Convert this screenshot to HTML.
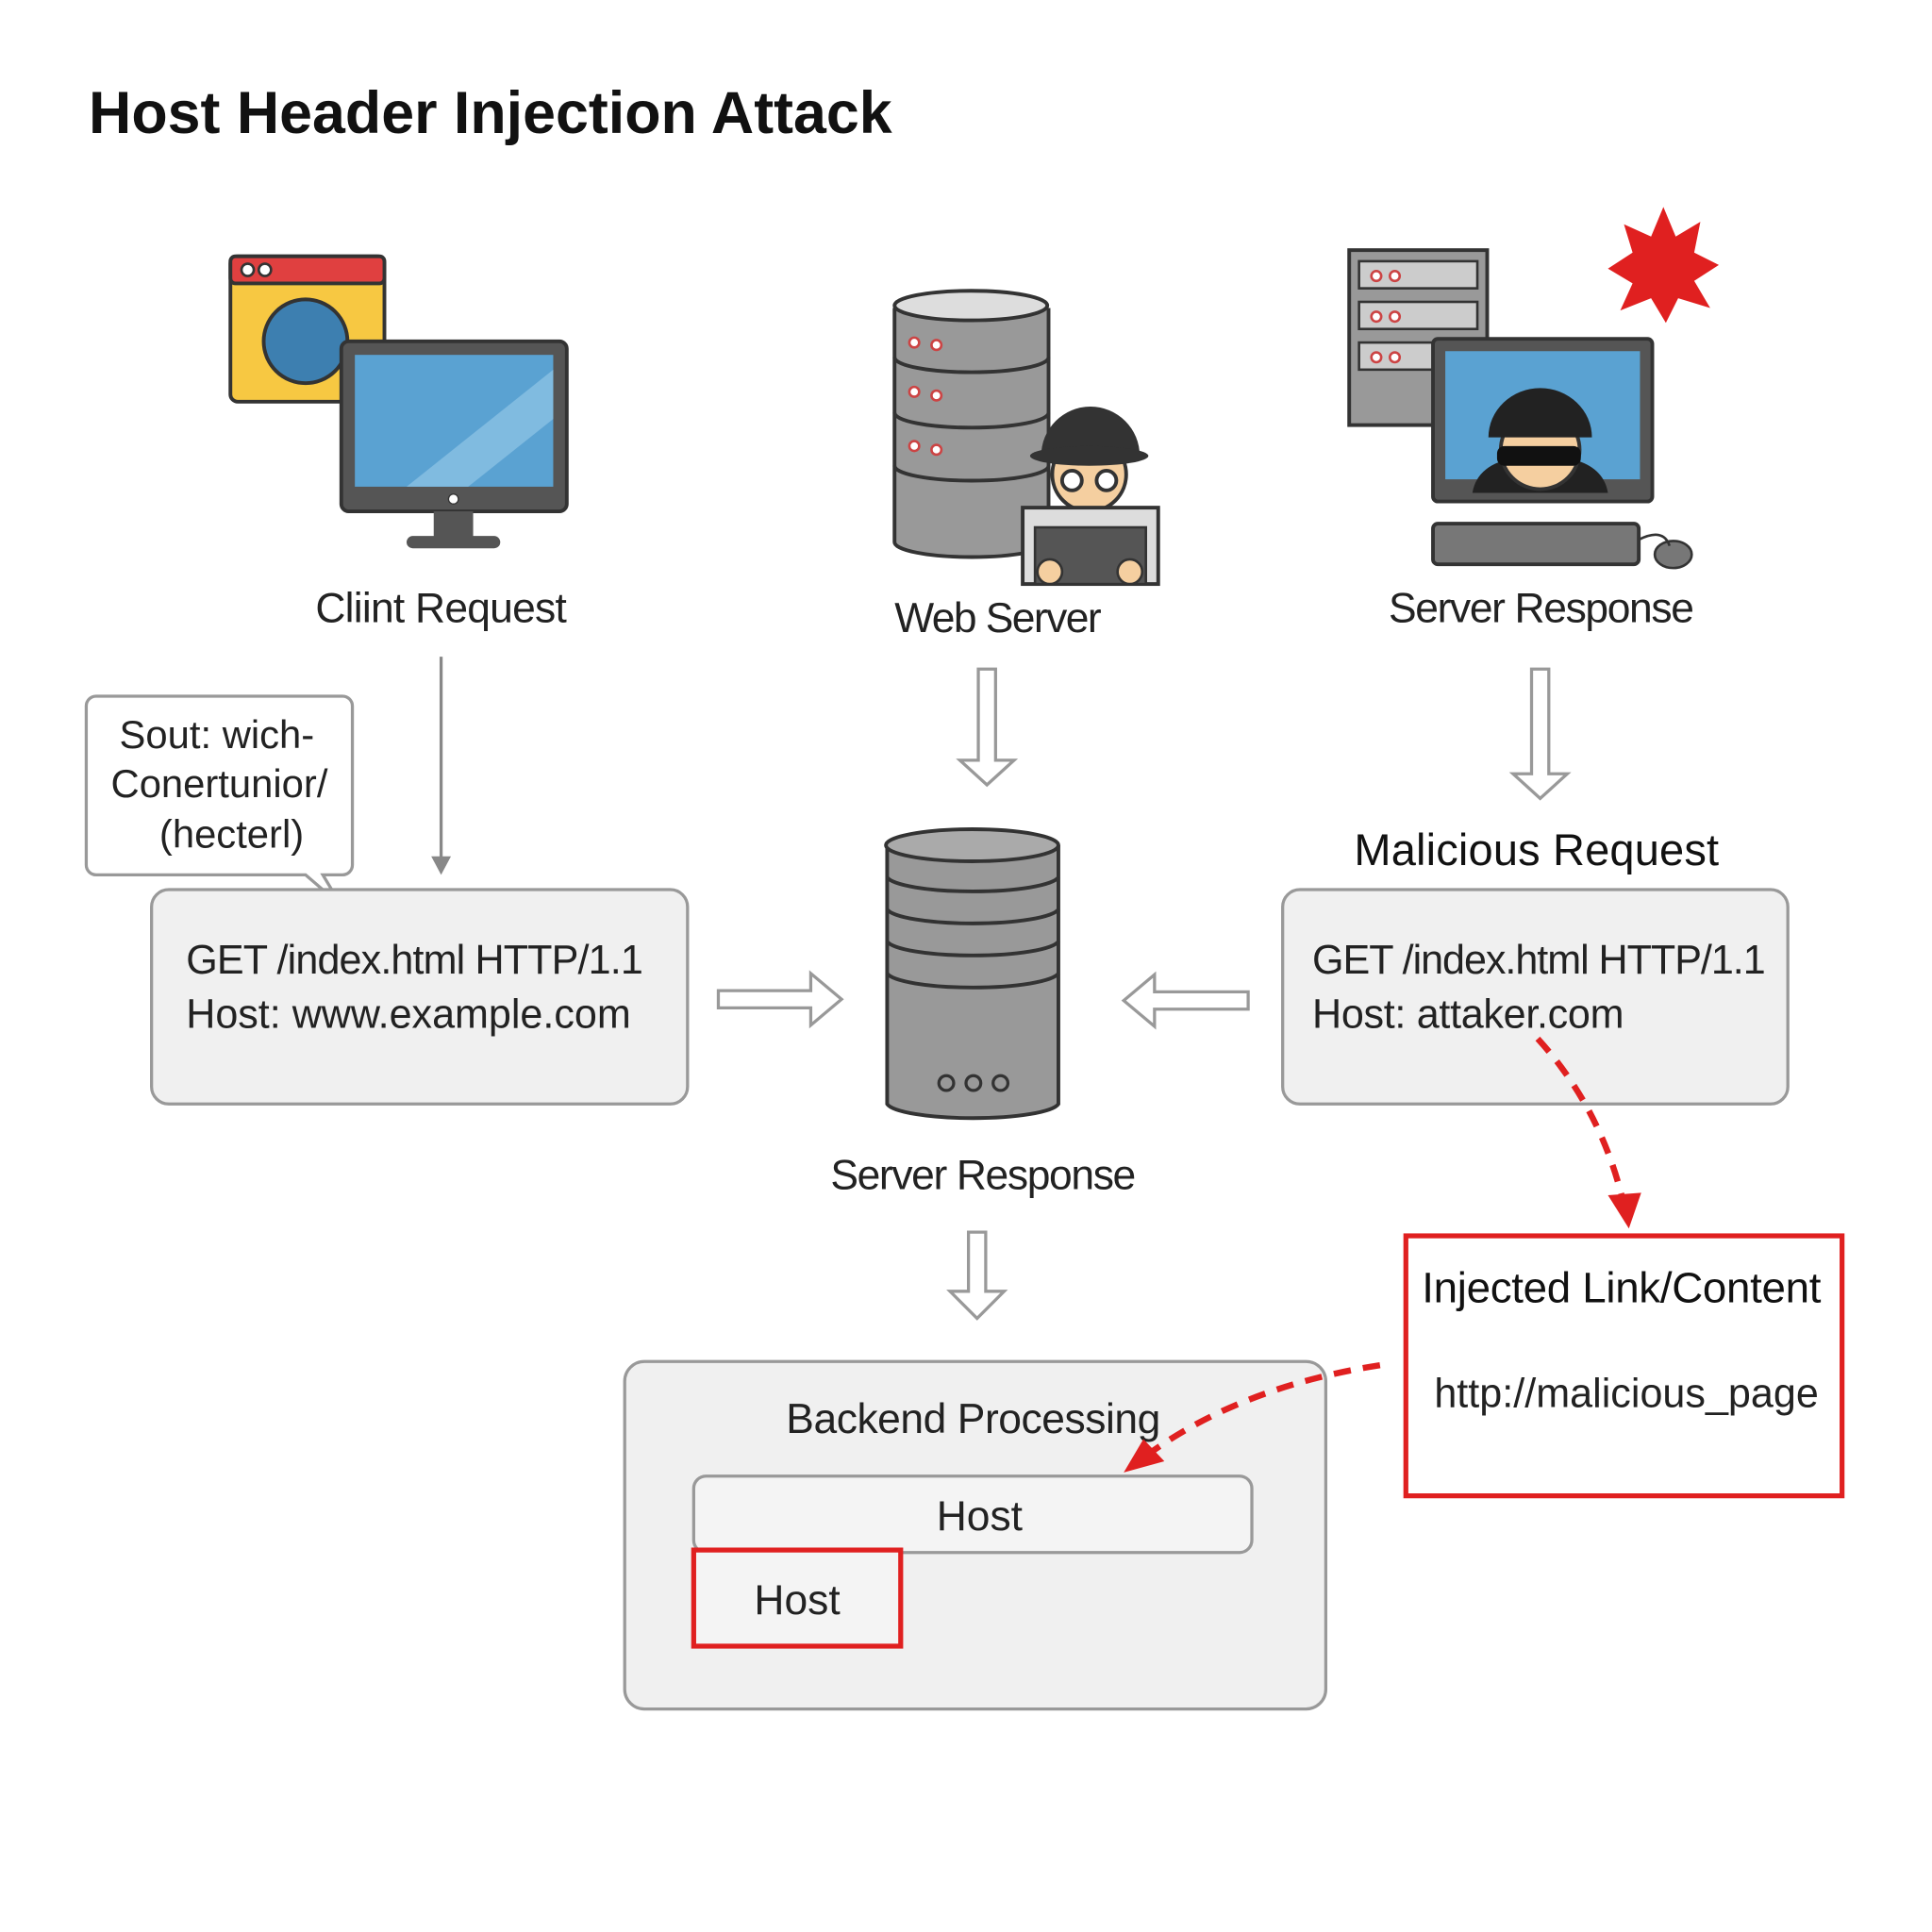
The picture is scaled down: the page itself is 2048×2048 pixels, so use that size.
<!DOCTYPE html>
<html><head><meta charset="utf-8"><style>html,body{margin:0;padding:0;background:#fff}svg{display:block}</style></head><body>
<svg width="2048" height="2048" viewBox="0 0 1568 1568" xmlns="http://www.w3.org/2000/svg" font-family="Liberation Sans, sans-serif">
<rect width="1568" height="1568" fill="#fff"/>
<text x="72" y="108" font-size="48" font-weight="bold" fill="#111" textLength="652">Host Header Injection Attack</text>

<!-- client icons -->
<rect x="187" y="208" width="125" height="118" rx="6" fill="#f7c842" stroke="#333" stroke-width="3"/>
<rect x="187" y="208" width="125" height="22" rx="4" fill="#e04040" stroke="#333" stroke-width="3"/>
<circle cx="201" cy="219" r="5" fill="#fff" stroke="#333" stroke-width="2"/><circle cx="215" cy="219" r="5" fill="#fff" stroke="#333" stroke-width="2"/>
<circle cx="248" cy="277" r="34" fill="#3d7fb0" stroke="#333" stroke-width="3"/>
<rect x="277" y="277" width="183" height="138" rx="6" fill="#555" stroke="#333" stroke-width="3"/>
<rect x="288" y="288" width="161" height="107" fill="#5aa2d2"/>
<polygon points="330,395 449,300 449,340 380,395" fill="#80bbe0"/>
<circle cx="368" cy="405" r="4" fill="#fff" stroke="#333"/>
<rect x="352" y="415" width="32" height="22" fill="#555"/>
<rect x="330" y="435" width="76" height="10" rx="5" fill="#555"/>
<text x="358" y="505" font-size="34" text-anchor="middle" fill="#222" textLength="204">Cliint Request</text>

<!-- web server -->
<g stroke="#333" stroke-width="3">
<path d="M726 250 v190 a62 12 0 0 0 125 0 v-190" fill="#999"/>
<ellipse cx="788" cy="248" rx="62" ry="12" fill="#ddd"/>
<path d="M726 290 a62 12 0 0 0 125 0 M726 335 a62 12 0 0 0 125 0 M726 378 a62 12 0 0 0 125 0" fill="none"/>
</g>
<g fill="#fff" stroke="#c44" stroke-width="2"><circle cx="742" cy="278" r="4"/><circle cx="760" cy="280" r="4"/><circle cx="742" cy="318" r="4"/><circle cx="760" cy="321" r="4"/><circle cx="742" cy="362" r="4"/><circle cx="760" cy="365" r="4"/></g>
<circle cx="884" cy="385" r="30" fill="#f5cfa0" stroke="#333" stroke-width="3"/>
<path d="M845 370 a40 40 0 0 1 80 0 z" fill="#333"/>
<ellipse cx="884" cy="370" rx="48" ry="8" fill="#333"/>
<circle cx="870" cy="390" r="8" fill="#fff" stroke="#333" stroke-width="3"/><circle cx="898" cy="390" r="8" fill="#fff" stroke="#333" stroke-width="3"/>
<rect x="830" y="412" width="110" height="62" fill="#ddd" stroke="#333" stroke-width="3"/>
<rect x="840" y="428" width="90" height="46" fill="#555" stroke="#333" stroke-width="2"/>
<circle cx="852" cy="464" r="10" fill="#f5cfa0" stroke="#333" stroke-width="2"/><circle cx="917" cy="464" r="10" fill="#f5cfa0" stroke="#333" stroke-width="2"/>
<text x="810" y="513" font-size="34" text-anchor="middle" fill="#222" textLength="168">Web Server</text>

<!-- attacker -->
<rect x="1095" y="203" width="112" height="142" fill="#999" stroke="#333" stroke-width="3"/>
<g fill="#ccc" stroke="#333" stroke-width="2"><rect x="1103" y="212" width="96" height="22"/><rect x="1103" y="245" width="96" height="22"/><rect x="1103" y="278" width="96" height="22"/></g>
<g fill="#fff" stroke="#c44" stroke-width="2"><circle cx="1117" cy="224" r="4"/><circle cx="1132" cy="224" r="4"/><circle cx="1117" cy="257" r="4"/><circle cx="1132" cy="257" r="4"/><circle cx="1117" cy="290" r="4"/><circle cx="1132" cy="290" r="4"/></g>
<rect x="1163" y="275" width="178" height="132" rx="4" fill="#555" stroke="#333" stroke-width="3"/>
<rect x="1173" y="285" width="158" height="104" fill="#5aa2d2"/>
<path d="M1195 400 q5 -30 55 -30 q50 0 55 30 z" fill="#222"/>
<circle cx="1250" cy="365" r="32" fill="#f5cfa0" stroke="#333" stroke-width="3"/>
<path d="M1208 355 a42 40 0 0 1 84 0 z" fill="#222"/>
<rect x="1215" y="362" width="68" height="16" rx="6" fill="#111"/>
<rect x="1163" y="425" width="167" height="33" rx="4" fill="#777" stroke="#333" stroke-width="3"/>
<ellipse cx="1358" cy="450" rx="15" ry="11" fill="#777" stroke="#333" stroke-width="2"/>
<path d="M1330 438 q20 -10 25 5" fill="none" stroke="#333" stroke-width="2"/>
<polygon points="1350,168 1360,192 1380,180 1375,205 1395,215 1375,228 1388,250 1362,242 1352,262 1340,242 1315,252 1325,230 1305,218 1325,205 1318,182 1340,192" fill="#e02020"/>
<text x="1251" y="505" font-size="34" text-anchor="middle" fill="#222" textLength="248">Server Response</text>

<!-- arrows -->
<line x1="358" y1="533" x2="358" y2="698" stroke="#888" stroke-width="2.5"/>
<polygon points="350,695 366,695 358,710" fill="#888"/>
<g fill="#fff" stroke="#999" stroke-width="2.5">
<polygon points="794,543 808,543 808,617 823,617 801,637 779,617 794,617"/>
<polygon points="1243,543 1257,543 1257,628 1272,628 1250,648 1228,628 1243,628"/>
<polygon points="583,804 658,804 658,790 683,811 658,832 658,818 583,818"/>
<polygon points="1013,805 937,805 937,791 912,812 937,833 937,819 1013,819"/>
<polygon points="786,1000 800,1000 800,1048 815,1048 793,1070 771,1048 786,1048"/>
</g>

<!-- callout -->
<path d="M78 565 H278 a8 8 0 0 1 8 8 V702 a8 8 0 0 1 -8 8 H262 L277 735 L248 710 H78 a8 8 0 0 1 -8 -8 V573 a8 8 0 0 1 8 -8 z" fill="#fff" stroke="#999" stroke-width="2.5"/>
<g font-size="32" text-anchor="middle" fill="#222"><text x="176" y="607">Sout: wich-</text><text x="178" y="647">Conertunior/</text><text x="188" y="688">(hecterl)</text></g>

<!-- left box -->
<rect x="123" y="722" width="435" height="174" rx="14" fill="#f0f0f0" stroke="#999" stroke-width="2.5"/>
<text x="151" y="790" font-size="33" fill="#222" textLength="371">GET /index.html HTTP/1.1</text>
<text x="151" y="834" font-size="33" fill="#222" textLength="361">Host: www.example.com</text>

<!-- center cylinder -->
<g stroke="#333" stroke-width="3">
<path d="M720 686 v210 a70 13 0 0 0 139 0 v-210" fill="#999"/>
<ellipse cx="789" cy="686" rx="70" ry="13" fill="#aaa"/>
<path d="M720 712 a70 13 0 0 0 139 0 M720 738 a70 13 0 0 0 139 0 M720 764 a70 13 0 0 0 139 0 M720 790 a70 13 0 0 0 139 0" fill="none"/>
</g>
<g fill="none" stroke="#333" stroke-width="2.5"><circle cx="768" cy="879" r="6"/><circle cx="790" cy="879" r="6"/><circle cx="812" cy="879" r="6"/></g>
<text x="798" y="965" font-size="34" text-anchor="middle" fill="#222" textLength="248">Server Response</text>

<!-- right box -->
<text x="1247" y="702" font-size="36" text-anchor="middle" fill="#111" textLength="296">Malicious Request</text>
<rect x="1041" y="722" width="410" height="174" rx="14" fill="#f0f0f0" stroke="#999" stroke-width="2.5"/>
<text x="1065" y="790" font-size="33" fill="#222" textLength="368">GET /index.html HTTP/1.1</text>
<text x="1065" y="834" font-size="33" fill="#222" textLength="253">Host: attaker.com</text>
<path d="M1248 843 Q1300 900 1318 978" fill="none" stroke="#e02020" stroke-width="5" stroke-dasharray="14 10"/>
<polygon points="1305,970 1332,968 1322,997" fill="#e02020"/>

<!-- backend -->
<rect x="507" y="1105" width="569" height="282" rx="16" fill="#f0f0f0" stroke="#999" stroke-width="2.5"/>
<text x="790" y="1163" font-size="34" text-anchor="middle" fill="#222" textLength="304">Backend Processing</text>
<rect x="563" y="1198" width="453" height="62" rx="10" fill="#f4f4f4" stroke="#999" stroke-width="2.5"/>
<text x="795" y="1242" font-size="34" text-anchor="middle" fill="#222">Host</text>
<rect x="563" y="1258" width="168" height="78" fill="#f4f4f4" stroke="#e02020" stroke-width="4"/>
<text x="647" y="1310" font-size="34" text-anchor="middle" fill="#222">Host</text>

<!-- injected -->
<rect x="1141" y="1003" width="354" height="211" fill="#fff" stroke="#e02020" stroke-width="4"/>
<text x="1316" y="1057" font-size="35" text-anchor="middle" fill="#111" textLength="324">Injected Link/Content</text>
<text x="1320" y="1142" font-size="33" text-anchor="middle" fill="#222" textLength="312">http://malicious_page</text>
<path d="M1120 1108 Q1010 1125 935 1178" fill="none" stroke="#e02020" stroke-width="5" stroke-dasharray="14 10"/>
<polygon points="928,1168 945,1186 912,1195" fill="#e02020"/>
</svg>
</body></html>
